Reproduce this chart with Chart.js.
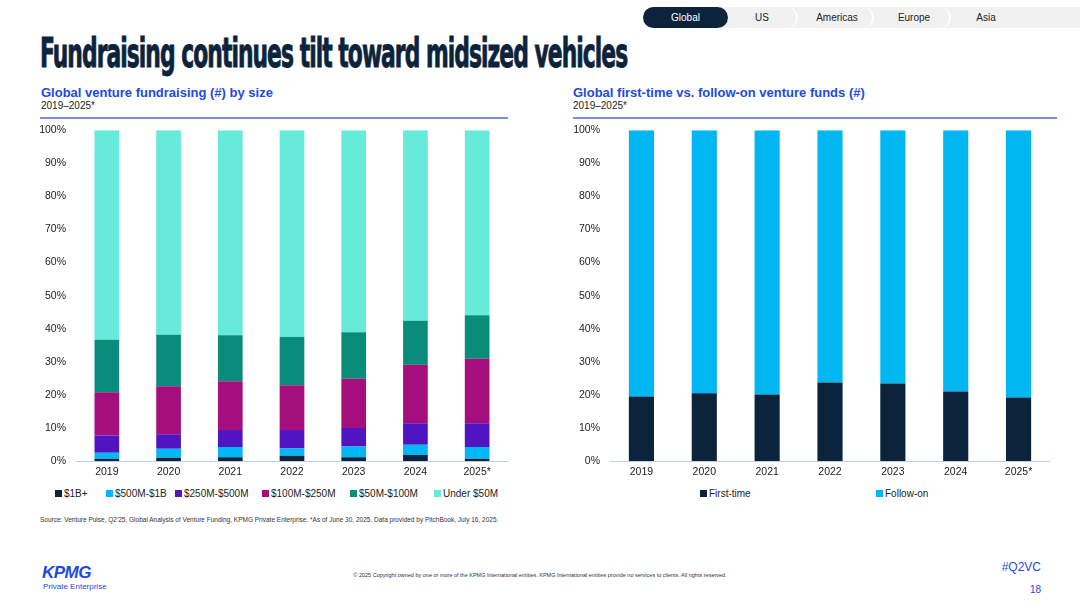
<!DOCTYPE html>
<html>
<head>
<meta charset="utf-8">
<script src="https://cdn.jsdelivr.net/npm/chart.js@4.4.1/dist/chart.umd.min.js"></script>
<style>
  body { margin:0; width:1080px; height:608px; background:#fff; font-family:"Liberation Sans", Arial, sans-serif; position:relative; overflow:hidden; color:#222; }
  .abs { position:absolute; }
  #tabs { left:643px; top:7px; width:437px; height:21px; background:#f1f1f1; border-radius:11px 0 0 11px; }
  .tab { position:absolute; top:0; height:21px; line-height:21px; font-size:10px; text-align:center; color:#222; }
  .tab.on { background:#0c233c; color:#fff; border-radius:11px; }
  .sep { position:absolute; top:0; width:10px; height:21px; border-right:2px solid #fff; border-radius:0 11px 11px 0; }
  #title { left:40px; top:29px; font-family:"Liberation Sans Narrow","DejaVu Sans Condensed","Liberation Sans",sans-serif; font-weight:bold; font-size:41px; color:#0c233c; white-space:nowrap; transform-origin:0 0; letter-spacing:-1.6px; -webkit-text-stroke:0.9px #0c233c; }
  .sub { font-size:13px; font-weight:bold; color:#1e49e2; white-space:nowrap; }
  .yrs { font-size:10px; color:#222; }
  .rule { height:2px; background:#7d90d6; }
  .leg { font-size:10px; color:#222; white-space:nowrap; }
  .leg i { display:inline-block; width:7px; height:7px; margin-right:2px; vertical-align:0px; }
</style>
</head>
<body>
<div id="tabs" class="abs">
  <div class="tab on" style="left:0;width:85px;">Global</div>
  <div class="tab" style="left:99px;width:40px;">US</div>
  <div class="sep" style="left:143px;"></div>
  <div class="tab" style="left:160px;width:68px;">Americas</div>
  <div class="sep" style="left:219px;"></div>
  <div class="tab" style="left:240px;width:62px;">Europe</div>
  <div class="sep" style="left:296px;"></div>
  <div class="tab" style="left:320px;width:46px;">Asia</div>
</div>

<div id="title" class="abs">Fundraising continues tilt toward midsized vehicles</div>

<div class="abs sub" style="left:41px;top:85px;">Global venture fundraising (#) by size</div>
<div class="abs yrs" style="left:41px;top:100px;">2019–2025*</div>
<div class="abs rule" style="left:40px;top:117px;width:468px;"></div>

<div class="abs sub" style="left:573px;top:85px;">Global first-time vs. follow-on venture funds (#)</div>
<div class="abs yrs" style="left:573px;top:100px;">2019–2025*</div>
<div class="abs rule" style="left:573px;top:117px;width:484px;"></div>

<div class="abs" style="left:36px;top:114px;width:472px;height:368px;"><canvas id="left"></canvas></div>
<div class="abs" style="left:570px;top:114px;width:480px;height:368px;"><canvas id="right"></canvas></div>

<div id="legLeft"></div>
<div id="legRight"></div>

<div class="abs" style="left:40px;top:516px;font-size:6.5px;color:#333;white-space:nowrap;">Source: Venture Pulse, Q2'25, Global Analysis of Venture Funding, KPMG Private Enterprise. *As of June 30, 2025. Data provided by PitchBook, July 16, 2025.</div>

<div class="abs" style="left:42px;top:563px;font-size:17px;font-weight:bold;font-style:italic;color:#1e49e2;letter-spacing:-0.5px;">KPMG</div>
<div class="abs" style="left:43px;top:582px;font-size:8px;color:#1e49e2;">Private Enterprise</div>
<div class="abs" style="left:0;width:1080px;top:572px;text-align:center;font-size:5.5px;color:#333;">© 2025 Copyright owned by one or more of the KPMG International entities. KPMG International entities provide no services to clients. All rights reserved.</div>
<div class="abs" style="right:39px;top:560px;font-size:12px;color:#1e49e2;">#Q2VC</div>
<div class="abs" style="right:39px;top:584px;font-size:10px;color:#1e49e2;">18</div>

<script>
var years = ['2019', '2020', '2021', '2022', '2023', '2024', '2025*'];
var yTicks = [0, 10, 20, 30, 40, 50, 60, 70, 80, 90, 100];

// Global venture fundraising (#) by size, share of funds (%)
var sizeLabels = ['$1B+', '$500M-$1B', '$250M-$500M', '$100M-$250M', '$50M-$100M', 'Under $50M'];
var sizeColors = ['#0c233c', '#00b8f5', '#5014c0', '#a50f7d', '#0a8c7a', '#66ebda'];
var b1B     = [0.7, 1.0, 1.1, 1.6, 1.1, 1.8, 0.7];
var b500M   = [1.8, 2.7, 3.1, 2.2, 3.3, 3.1, 3.5];
var b250M   = [5.2, 4.4, 5.2, 5.6, 5.6, 6.5, 7.2];
var b100M   = [13.1, 14.5, 14.7, 13.5, 14.9, 17.7, 19.5];
var b50M    = [15.9, 15.6, 13.9, 14.6, 14.0, 13.3, 13.2];
var bUnder  = [63.3, 61.8, 62.0, 62.5, 61.1, 57.6, 55.9];

// Global first-time vs. follow-on venture funds (#)
var typeLabels = ['First-time', 'Follow-on'];
var typeColors = ['#0c233c', '#00b7f1'];
var firstTime = [19.5, 20.5, 20.1, 23.7, 23.4, 21.0, 19.2];
var followOn  = [80.5, 79.5, 79.9, 76.3, 76.6, 79.0, 80.8];

// squeeze the title to its width in the slide
var t = document.getElementById('title');
t.style.transform = 'scaleX(' + (587 / t.offsetWidth) + ')';

Chart.defaults.font.family = '"Liberation Sans", Arial, sans-serif';
Chart.defaults.font.size = 10.5;
Chart.defaults.color = '#222';

function stackOptions(yWidth) {
    return {
        responsive: true,
        maintainAspectRatio: false,
        animation: false,
        layout: { padding: 0 },
        plugins: { legend: { display: false }, tooltip: { enabled: false } },
        scales: {
            x: {
                stacked: true,
                grid: { display: false, drawTicks: false },
                border: { display: true, color: '#b9cdee', width: 1 },
                ticks: { padding: 5 },
                afterFit: function (s) { s.height = 21; }
            },
            y: {
                stacked: true,
                min: 0,
                max: 100,
                afterBuildTicks: function (s) { s.ticks = yTicks.map(function (v) { return { value: v }; }); },
                grid: { display: false, drawTicks: false },
                border: { display: false },
                ticks: { padding: 10, callback: function (v) { return v + '%'; } },
                afterFit: function (s) { s.width = yWidth; }
            }
        }
    };
}

var sizeData = [b1B, b500M, b250M, b100M, b50M, bUnder];
new Chart(document.getElementById('left'), {
    type: 'bar',
    data: {
        labels: years,
        datasets: sizeData.map(function (d, i) {
            return { label: sizeLabels[i], data: d, backgroundColor: sizeColors[i],
                     barPercentage: 0.8, categoryPercentage: 0.5 };
        })
    },
    options: stackOptions(40)
});

var typeData = [firstTime, followOn];
new Chart(document.getElementById('right'), {
    type: 'bar',
    data: {
        labels: years,
        datasets: typeData.map(function (d, i) {
            return { label: typeLabels[i], data: d, backgroundColor: typeColors[i],
                     barPercentage: 0.8, categoryPercentage: 0.5 };
        })
    },
    options: stackOptions(40)
});

// legends
function makeLegend(id, labels, colors, xs, top) {
    var box = document.getElementById(id);
    labels.forEach(function (l, i) {
        var d = document.createElement('div');
        d.className = 'abs leg';
        d.style.left = xs[i] + 'px';
        d.style.top = top + 'px';
        d.innerHTML = '<i style="background:' + colors[i] + '"></i>' + l;
        box.appendChild(d);
    });
}
makeLegend('legLeft', sizeLabels, sizeColors, [55, 106, 175, 262, 350, 434], 488);
makeLegend('legRight', typeLabels, typeColors, [700, 876], 488);
</script>
</body>
</html>
